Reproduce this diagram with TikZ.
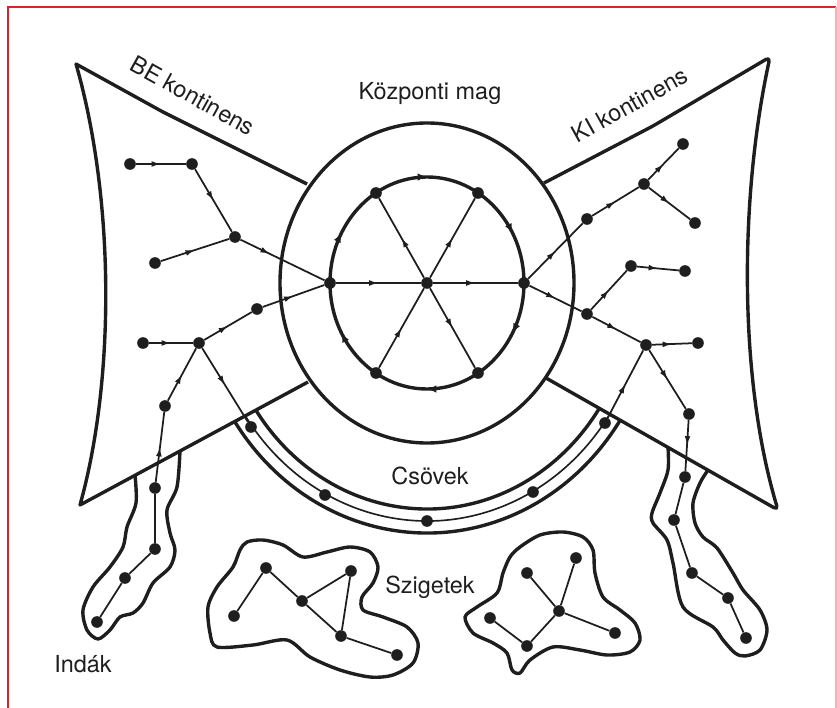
\documentclass[tikz,border=0pt]{standalone}
\usepackage{fontspec}
\setmainfont{TeX Gyre Heros}
\usetikzlibrary{arrows.meta,decorations.markings}
\definecolor{ink}{RGB}{30,30,30}
\definecolor{frame}{RGB}{220,35,45}
\tikzset{
  every picture/.style={color=ink, x=0.03cm, y=-0.03cm},
  outline/.style={draw=ink, line width=2.9pt, line join=round},
  tube/.style={draw=ink, line width=1.4pt},
  dot/.style={circle, fill=ink, inner sep=0pt, minimum size=3.5mm},
  edge/.style={draw=ink, line width=1.5pt},
  arr/.style={edge, postaction={decorate}, decoration={markings, mark=at position #1 with {\arrow{Latex[length=8pt,width=5pt]}}}},
  arr/.default=0.5,
  ringtip/.style={-, postaction={decorate}, decoration={markings,
    mark=at position 0.081 with {\arrow{Latex[length=8pt,width=6.5pt]}},
    mark=at position 0.25 with {\arrow{Latex[length=8pt,width=6.5pt]}},
    mark=at position 0.419 with {\arrow{Latex[length=8pt,width=6.5pt]}},
    mark=at position 0.581 with {\arrow{Latex[length=8pt,width=6.5pt]}},
    mark=at position 0.75 with {\arrow{Latex[length=8pt,width=6.5pt]}},
    mark=at position 0.919 with {\arrow{Latex[length=8pt,width=6.5pt]}}}},
  lbl/.style={font=\fontsize{20}{24}\selectfont, text=ink, inner sep=0pt, anchor=base},
}

\begin{document}
\begin{tikzpicture}
  \useasboundingbox (0,0) rectangle (837,708);
  \draw[frame, line width=1.8pt] (8,712) -- (8,7) -- (836,7);
  \draw[frame!35, line width=1.8pt] (836,7) -- (836,712);

  % continents and core
  \draw[outline] (307,184) -- (163,112) -- (76,64) .. controls (115,200) and (115,380) .. (80,505) -- (308,382);
  \draw[outline, rounded corners=4pt] (544,183) -- (653,126) -- (770,57) .. controls (739,200) and (739,380) .. (778,510) -- (546,378);
  \draw[outline] (427,283) ellipse [x radius=147, y radius=160];
  \draw[outline, ringtip] (330,283) arc [start angle=180, end angle=540, x radius=97, y radius=106];

  % tubes
  \begin{scope}
    \clip (0,548) -- (434,314) -- (837,545) -- (837,708) -- (0,708) -- cycle;
    \draw[outline] (427,283) ++(10:207 and 226) arc [start angle=10, end angle=170, x radius=207, y radius=226];
    \draw[outline] (427,283) ++(10:231 and 250) arc [start angle=10, end angle=170, x radius=231, y radius=250];
    \draw[tube] (427,283) ++(10:219 and 238) arc [start angle=10, end angle=170, x radius=219, y radius=238];
  \end{scope}

  % tendrils and islands
  \draw[outline] plot[smooth] coordinates {(135,475) (136,503) (127,527) (123,547) (110,567) (93,587) (83,610) (87,630) (98,639) (110,630) (120,617) (133,613) (143,603) (153,583) (170,567) (175,550) (170,533) (167,510) (177,487) (180,451)};
  \draw[outline] plot[smooth] coordinates {(668,447) (668,470) (660,493) (652,513) (653,523) (667,540) (673,563) (683,607) (713,627) (723,640) (735,653) (745,656) (760,650) (767,630) (760,610) (743,590) (733,573) (717,548) (703,537) (695,523) (693,503) (700,483) (708,470)};
  \draw[outline] plot[smooth cycle] coordinates {(247,542) (263,540) (283,545) (303,557) (327,552) (350,547) (370,552) (378,567) (373,583) (362,597) (363,610) (383,617) (407,627) (418,643) (413,663) (393,675) (370,677) (340,670) (310,657) (287,640) (253,645) (217,647) (210,633) (208,607) (217,587) (233,567) (240,550)};
  \draw[outline] plot[smooth cycle] coordinates {(520,547) (540,535) (563,532) (583,537) (593,550) (595,573) (603,597) (620,610) (635,623) (640,640) (630,652) (607,655) (580,650) (553,647) (530,660) (520,673) (512,670) (507,653) (493,643) (473,633) (465,617) (477,607) (497,593) (503,573) (510,557)};

  % labels
  \node[lbl] (magtxt) at (430,100) {Központi mag};
  \node[lbl, rotate=-29] (betxt) at (189,103) {BE kontinens};
  \node[lbl, rotate=29] (kitxt) at (634,112) {KI kontinens};
  \node[lbl] (csotxt) at (430,484) {Csövek};
  \node[lbl] (szigtxt) at (430,593) {Szigetek};
  \node[lbl] (indtxt) at (83,672) {Indák};

  % core nodes
  \node[dot] (cc) at (427,283) {};
  \node[dot] (cl) at (330,283) {};  \node[dot] (cr) at (524,283) {};
  \node[dot] (ctl) at (376,193) {}; \node[dot] (ctr) at (478,193) {};
  \node[dot] (cbl) at (376,373) {}; \node[dot] (cbr) at (478,373) {};

  % IN nodes
  \node[dot] (in1) at (130,164) {}; \node[dot] (in2) at (192,164) {};
  \node[dot] (in3) at (235,237) {}; \node[dot] (in4) at (155,263) {};
  \node[dot] (in5) at (257,309) {}; \node[dot] (in6) at (143,343) {};
  \node[dot] (in7) at (199,343) {}; \node[dot] (in8) at (165,406) {};
  \node[dot] (tl1) at (155,488) {}; \node[dot] (tl2) at (155,549) {};
  \node[dot] (tl3) at (125,578) {}; \node[dot] (tl4) at (97,622) {};

  % tube nodes
  \node[dot] (tb1) at (251,427) {}; \node[dot] (tb2) at (325,495) {};
  \node[dot] (tb3) at (427,521) {}; \node[dot] (tb4) at (533,492) {};
  \node[dot] (tb5) at (605,423) {};

  % OUT nodes
  \node[dot] (out1) at (587,219) {}; \node[dot] (out2) at (644,184) {};
  \node[dot] (out3) at (683,144) {}; \node[dot] (out4) at (695,223) {};
  \node[dot] (out5) at (631,266) {}; \node[dot] (out6) at (685,271) {};
  \node[dot] (out7) at (587,314) {}; \node[dot] (out8) at (646,345) {};
  \node[dot] (out9) at (698,343) {};
  \node[dot] (tr1) at (689,414) {}; \node[dot] (tr2) at (685,477) {};
  \node[dot] (tr3) at (674,520) {}; \node[dot] (tr4) at (692,573) {};
  \node[dot] (tr5) at (728,598) {}; \node[dot] (tr6) at (746,638) {};

  % island nodes
  \node[dot] (ia1) at (266,568) {}; \node[dot] (ia2) at (234,616) {};
  \node[dot] (ia3) at (302,601) {}; \node[dot] (ia4) at (351,571) {};
  \node[dot] (ia5) at (341,636) {}; \node[dot] (ia6) at (397,655) {};
  \node[dot] (ib1) at (527,573) {}; \node[dot] (ib2) at (576,558) {};
  \node[dot] (ib3) at (559,611) {}; \node[dot] (ib4) at (490,618) {};
  \node[dot] (ib5) at (527,646) {}; \node[dot] (ib6) at (615,633) {};

  % core edges
  \draw[arr] (cl) -- (cc);  \draw[arr] (cc) -- (cr);
  \draw[arr] (cc) -- (ctl); \draw[arr] (cc) -- (ctr);
  \draw[arr] (cbl) -- (cc); \draw[arr] (cc) -- (cbr);

  % IN edges
  \draw[arr] (in1) -- (in2);
  \draw[arr] (in2) -- (in3);
  \draw[arr] (in4) -- (in3);
  \draw[arr=0.35] (in3) -- (cl);
  \draw[arr] (in6) -- (in7);
  \draw[arr] (in7) -- (in5);
  \draw[arr] (in5) -- (cl);
  \draw[arr] (in8) -- (in7);
  \draw[arr] (in7) -- (tb1);
  \draw[arr] (tl1) -- (in8);
  \draw[edge] (tl2) -- (tl1);
  \draw[edge] (tl2) -- (tl3);
  \draw[edge] (tl3) -- (tl4);

  % OUT edges
  \draw[arr] (cr) -- (out1);
  \draw[arr] (out1) -- (out2);
  \draw[arr] (out2) -- (out3);
  \draw[arr] (out2) -- (out4);
  \draw[arr] (cr) -- (out7);
  \draw[arr] (out7) -- (out5);
  \draw[arr] (out5) -- (out6);
  \draw[arr] (out7) -- (out8);
  \draw[arr] (out8) -- (out9);
  \draw[arr] (out8) -- (tr1);
  \draw[arr] (tb5) -- (out8);
  \draw[arr] (tr1) -- (tr2);
  \draw[edge] (tr2) -- (tr3);
  \draw[edge] (tr3) -- (tr4);
  \draw[edge] (tr4) -- (tr5);
  \draw[edge] (tr5) -- (tr6);

  % island edges
  \draw[edge] (ia1) -- (ia2);
  \draw[edge] (ia1) -- (ia3);
  \draw[edge] (ia3) -- (ia4);
  \draw[edge] (ia3) -- (ia5);
  \draw[edge] (ia4) -- (ia5);
  \draw[edge] (ia5) -- (ia6);
  \draw[edge] (ib1) -- (ib3);
  \draw[edge] (ib2) -- (ib3);
  \draw[edge] (ib3) -- (ib5);
  \draw[edge] (ib4) -- (ib5);
  \draw[edge] (ib3) -- (ib6);
\end{tikzpicture}
\end{document}
